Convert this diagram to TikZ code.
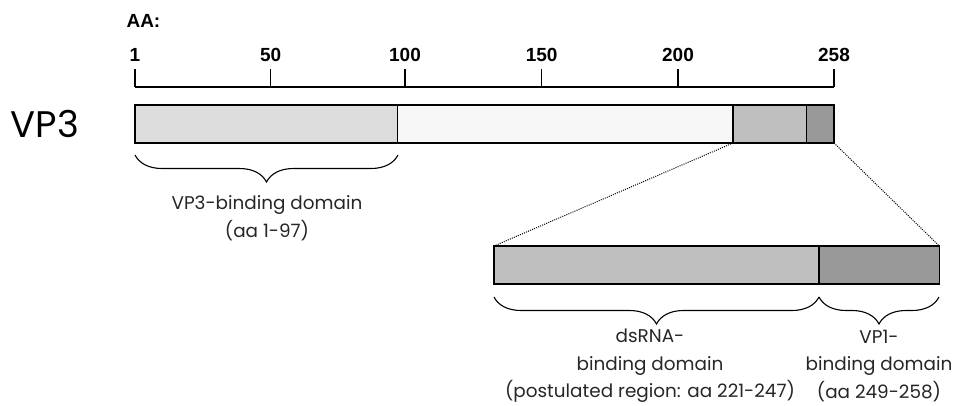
\documentclass[tikz,border=0pt]{standalone}
\usepackage{fontspec}
\setmainfont{Poppins}
\newfontfamily\rulerfont{Liberation Sans}
\usetikzlibrary{decorations.pathreplacing}
\definecolor{segA}{HTML}{DCDCDC}
\definecolor{segB}{HTML}{F7F7F7}
\definecolor{segC}{HTML}{BFBFBF}
\definecolor{segD}{HTML}{999999}
\tikzset{
  seg/.style={draw=black, line width=1.4pt, rectangle, inner sep=0pt, outer sep=0pt, anchor=north west},
  tick/.style={line width=1.1pt},
  ticklabel/.style={font=\rulerfont\bfseries\fontsize{19}{19}\selectfont, anchor=base},
  zoomline/.style={line width=1pt, dash pattern=on 1pt off 1.2pt},
  domainbrace/.style={decorate, decoration={brace, mirror, amplitude=27pt, aspect=0.5}, line width=1.1pt},
  domainlabel/.style={font=\fontsize{18.4}{27.5}\selectfont, align=center, text=black!85}
}
\begin{document}
\begin{tikzpicture}[x=1pt,y=-1pt]
\useasboundingbox (0,0) rectangle (954,405);

% amino-acid ruler
\node[ticklabel, anchor=base west] (aa) at (123,27) {AA:};
\coordinate (r0) at (135,87);
\coordinate (r1) at (834,87);
\draw[tick] (r0) -- (r1);
\foreach \x/\lab [count=\i] in {135/1, 270.7/50, 405/100, 541.7/150, 678/200, 834/258}{
  \coordinate (t\i) at (\x,87);
  \draw[tick] (t\i) -- ++(0,-18);
  \node[ticklabel] (tl\i) at (\x,61) {\lab};
}

% full-length protein bar
\node[font=\fontsize{37}{37}\selectfont] (vp3) at (45,124) {VP3};
\node[seg, fill=segA, minimum width=262.7pt, minimum height=38pt] (s1) at (135,105) {};
\node[seg, fill=segB, minimum width=335.3pt, minimum height=38pt] (s2) at (s1.north east) {};
\node[seg, fill=segC, minimum width=73.3pt, minimum height=38pt] (s3) at (s2.north east) {};
\node[seg, fill=segD, minimum width=27.7pt, minimum height=38pt] (s4) at (s3.north east) {};

% enlarged C-terminal part
\node[seg, fill=segC, minimum width=325pt, minimum height=38pt] (z1) at (494,246) {};
\node[seg, fill=segD, minimum width=120.3pt, minimum height=38pt] (z2) at (z1.north east) {};
\draw[zoomline] (s3.south west) -- (z1.north west);
\draw[zoomline] (s4.south east) -- (z2.north east);

% domain braces and labels
\coordinate (b1a) at (135,155);
\coordinate (b1b) at (398,155);
\draw[domainbrace] (b1a) -- (b1b);
\node[domainlabel] (l1) at (267,218) {VP3-binding domain\\(aa 1-97)};

\coordinate (b2a) at (494,297);
\coordinate (b2b) at (819,297);
\coordinate (b3b) at (939,297);
\draw[domainbrace] (b2a) -- (b2b);
\draw[domainbrace] (b2b) -- (b3b);
\node[domainlabel] (l2) at (650,366) {dsRNA-\\binding domain\\(postulated region: aa 221-247)};
\node[domainlabel] (l3) at (879,366) {VP1-\\binding domain\\(aa 249-258)};
\end{tikzpicture}
\end{document}
